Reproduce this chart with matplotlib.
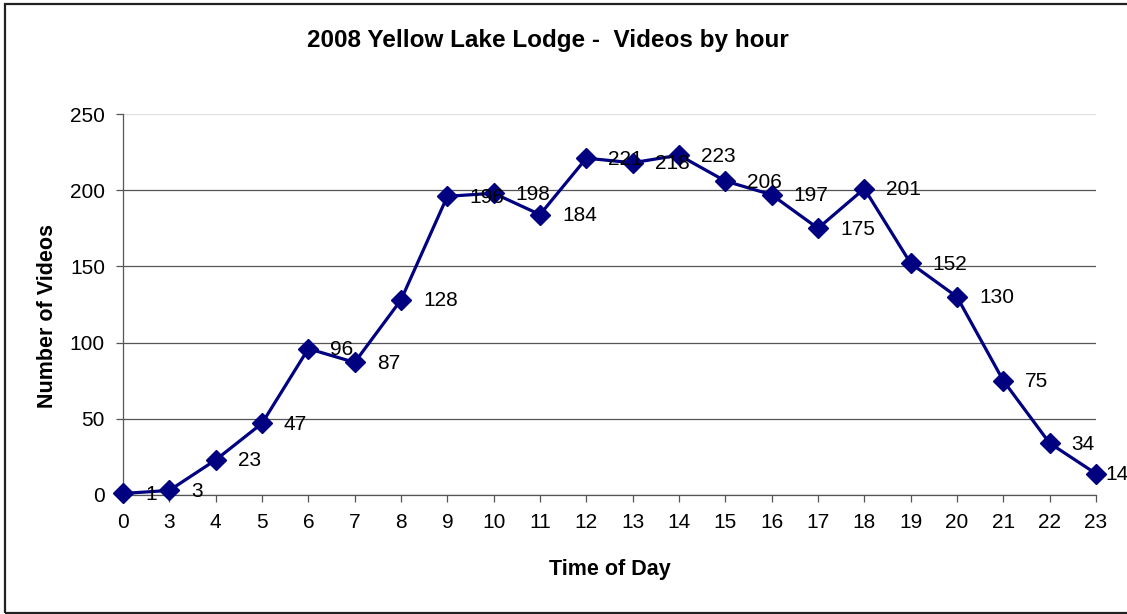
import matplotlib
matplotlib.use("Agg")
import matplotlib.pyplot as plt
from matplotlib.patches import Rectangle

plt.rcParams['font.family'] = ['Liberation Sans', 'DejaVu Sans']

hours = ["0", "3", "4", "5", "6", "7", "8", "9", "10", "11", "12", "13",
         "14", "15", "16", "17", "18", "19", "20", "21", "22", "23"]
videos = [1, 3, 23, 47, 96, 87, 128, 196, 198, 184, 221, 218,
          223, 206, 197, 175, 201, 152, 130, 75, 34, 14]
y_ticks = [0, 50, 100, 150, 200, 250]

W, H = 1127, 614
fig = plt.figure(figsize=(W / 100, H / 100), dpi=100)
ax = fig.add_axes([123 / W, 1 - 495 / H, (1096 - 123) / W, (495 - 114) / H])

xs = list(range(len(hours)))
ax.plot(xs, videos, color='#000080', lw=2.3, marker='D', markersize=10,
        markerfacecolor='#000080', markeredgecolor='#000080', clip_on=False, zorder=3)

for x, v in zip(xs, videos):
    dx = 9 if x == xs[-1] else 22   # last label pushed inside the chart area
    ax.annotate(str(v), (x, v), xytext=(dx, -1), textcoords='offset pixels',
                ha='left', va='center', fontsize=15, color='black',
                annotation_clip=False, zorder=4)

ax.set_xlim(0, len(hours) - 1)
ax.set_ylim(0, 250)
ax.set_xticks(xs)
ax.set_xticklabels(hours, fontsize=15)
ax.set_yticks(y_ticks)
ax.set_yticklabels([str(t) for t in y_ticks], fontsize=15)

ax.grid(axis='y', color='#555555', lw=0.9)
ax.yaxis.get_gridlines()[-1].set_color('#e0e0e0')
ax.set_axisbelow(True)
for s in ['top', 'right']:
    ax.spines[s].set_visible(False)
for s in ['left', 'bottom']:
    ax.spines[s].set_color('#555555')
    ax.spines[s].set_linewidth(0.9)
ax.tick_params(axis='both', direction='out', length=5, width=0.9, color='#555555', pad=8)

fig.text(610 / W, 1 - 569 / H, "Time of Day", ha='center', va='center',
         fontsize=15.5, fontweight='bold')
fig.text(48 / W, 1 - 316 / H, "Number of Videos", ha='center', va='center',
         rotation=90, fontsize=15.5, fontweight='bold')

fig.text(548 / W, 1 - 40 / H, "2008 Yellow Lake Lodge -  Videos by hour",
         ha='center', va='center', fontsize=17.5, fontweight='bold')

fig.patches.append(Rectangle((5 / W, 1 / H), 1.05, 609 / H, transform=fig.transFigure,
                             fill=False, edgecolor='#222222', lw=1.6, clip_on=False))

fig.savefig("out.png", dpi=100)
